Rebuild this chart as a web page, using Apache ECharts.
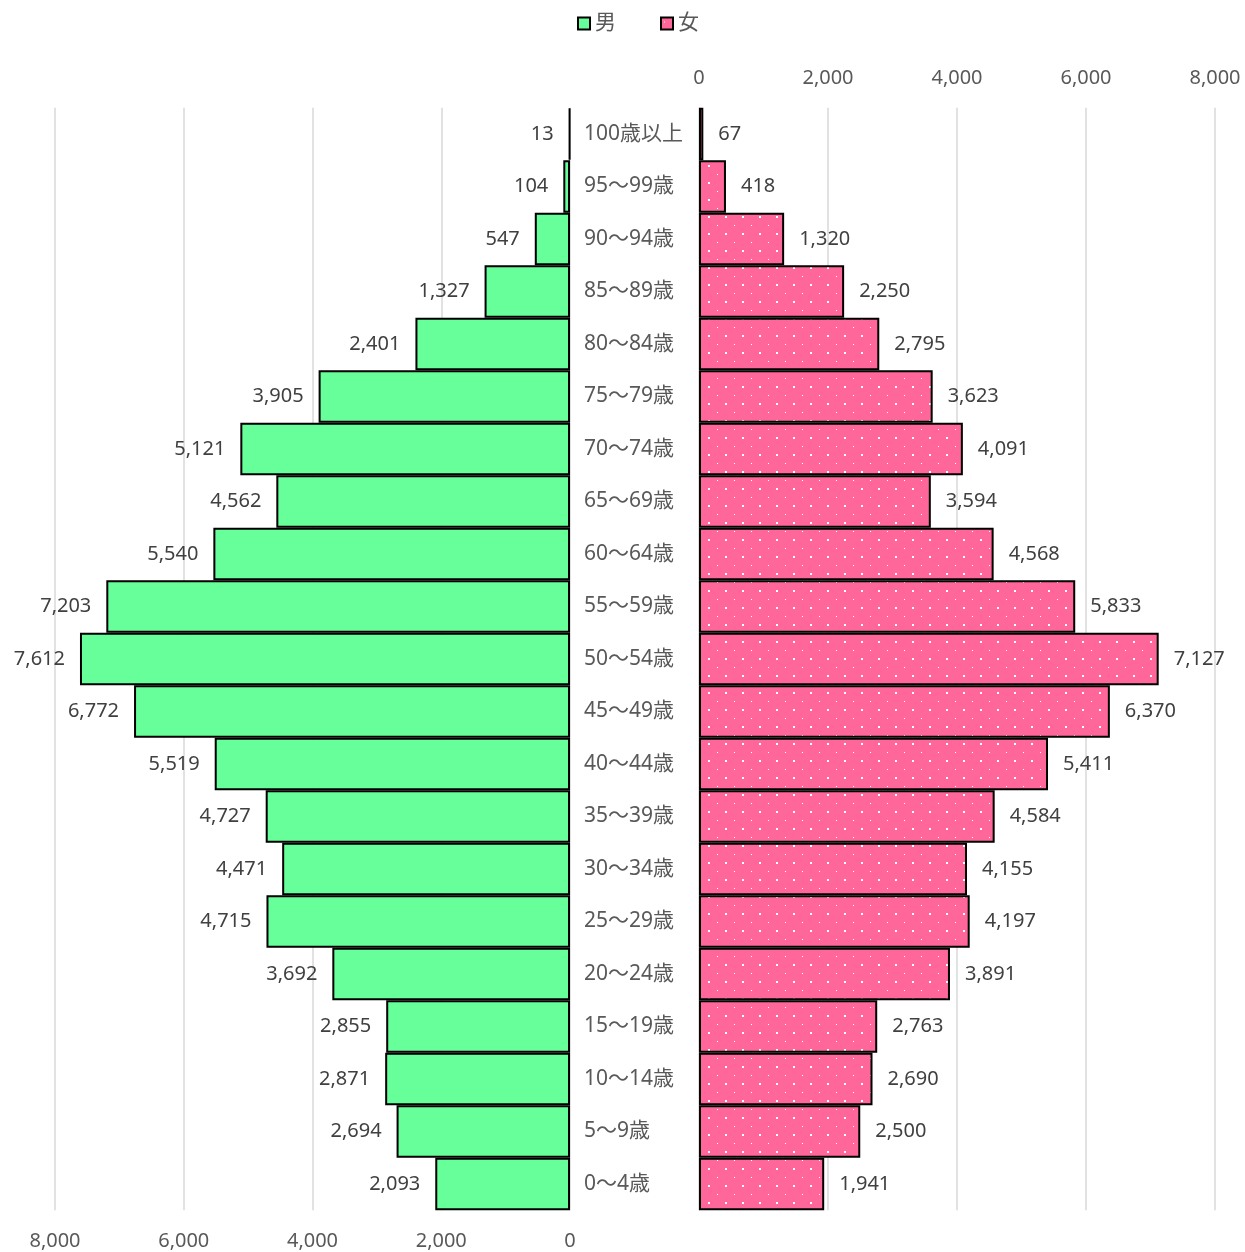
<!DOCTYPE html>
<html>
<head>
<meta charset="utf-8">
<script src="https://cdn.jsdelivr.net/npm/echarts@6/dist/echarts.min.js"></script>
<style>html,body{margin:0;padding:0;background:#fff}#c{width:1245px;height:1252px}</style>
</head>
<body>
<div id="c"></div>
<script>
const categories = ['100歳以上','95～99歳','90～94歳','85～89歳','80～84歳','75～79歳','70～74歳','65～69歳','60～64歳','55～59歳','50～54歳','45～49歳','40～44歳','35～39歳','30～34歳','25～29歳','20～24歳','15～19歳','10～14歳','5～9歳','0～4歳'];
const male = [13,104,547,1327,2401,3905,5121,4562,5540,7203,7612,6772,5519,4727,4471,4715,3692,2855,2871,2694,2093];
const female = [67,418,1320,2250,2795,3623,4091,3594,4568,5833,7127,6370,5411,4584,4155,4197,3891,2763,2690,2500,1941];
const axisTicks = [0,2000,4000,6000,8000];

const FONT = '"Noto Sans", "Noto Sans CJK JP", sans-serif';

// dotted pink pattern
const pc = document.createElement('canvas');
pc.width = 17; pc.height = 17;
const g = pc.getContext('2d');
g.fillStyle = '#FF6699';
g.fillRect(0,0,17,17);
g.fillStyle = '#ffffff';
g.fillRect(3,4,1,1);
g.fillRect(11,12,2,2);

const fmt = v => Number(v).toLocaleString('en-US');

const chart = echarts.init(document.getElementById('c'), null, {renderer:'canvas'});
chart.setOption({
  animation:false,
  textStyle:{fontFamily:FONT},
  legend:{
    left:572, top:8,
    itemWidth:12, itemHeight:12, itemGap:44,
    icon:'rect',
    itemStyle:{borderWidth:2, borderColor:'#000'},
    textStyle:{fontSize:21,color:'#595959',fontFamily:FONT},
    data:['男','女']
  },
  grid:[
    {left:55, right:675, top:107.75, bottom:41.75},
    {left:699, right:30, top:107.75, bottom:41.75}
  ],
  xAxis:[
    {gridIndex:0, type:'value', inverse:true, min:axisTicks[0], max:axisTicks[axisTicks.length-1], interval:2000, position:'bottom',
     axisLine:{show:false}, axisTick:{show:false},
     splitLine:{lineStyle:{color:'#D9D9D9',width:1.5}},
     axisLabel:{fontSize:20,color:'#595959',margin:21,fontFamily:FONT,formatter:fmt}},
    {gridIndex:1, type:'value', min:axisTicks[0], max:axisTicks[axisTicks.length-1], interval:2000, position:'top',
     axisLine:{show:false}, axisTick:{show:false},
     splitLine:{lineStyle:{color:'#D9D9D9',width:1.5}},
     axisLabel:{fontSize:20,color:'#595959',margin:19,fontFamily:FONT,formatter:fmt}}
  ],
  yAxis:[
    {gridIndex:0, type:'category', data:categories, inverse:true, position:'right',
     axisLine:{show:false}, axisTick:{show:false},
     axisLabel:{fontSize:21,color:'#595959',margin:14,align:'left',padding:[2,0,0,0],fontFamily:FONT}},
    {gridIndex:1, type:'category', data:categories, inverse:true,
     axisLine:{show:false}, axisTick:{show:false}, axisLabel:{show:false}}
  ],
  series:[
    {name:'男', type:'bar', xAxisIndex:0, yAxisIndex:0, data:male,
     barWidth:'100%', barCategoryGap:0,
     itemStyle:{color:'#66FF99', borderColor:'#000', borderWidth:2},
     label:{show:true, position:'left', distance:15, fontSize:20, color:'#404040', fontFamily:FONT, padding:[2,0,0,0], formatter:p=>fmt(p.value)}},
    {name:'女', type:'bar', xAxisIndex:1, yAxisIndex:1, data:female,
     barWidth:'100%', barCategoryGap:0,
     itemStyle:{color:{image:pc, repeat:'repeat'}, borderColor:'#000', borderWidth:2},
     label:{show:true, position:'right', distance:15, fontSize:20, color:'#404040', fontFamily:FONT, padding:[2,0,0,0], formatter:p=>fmt(p.value)}}
  ]
});
</script>
</body>
</html>
